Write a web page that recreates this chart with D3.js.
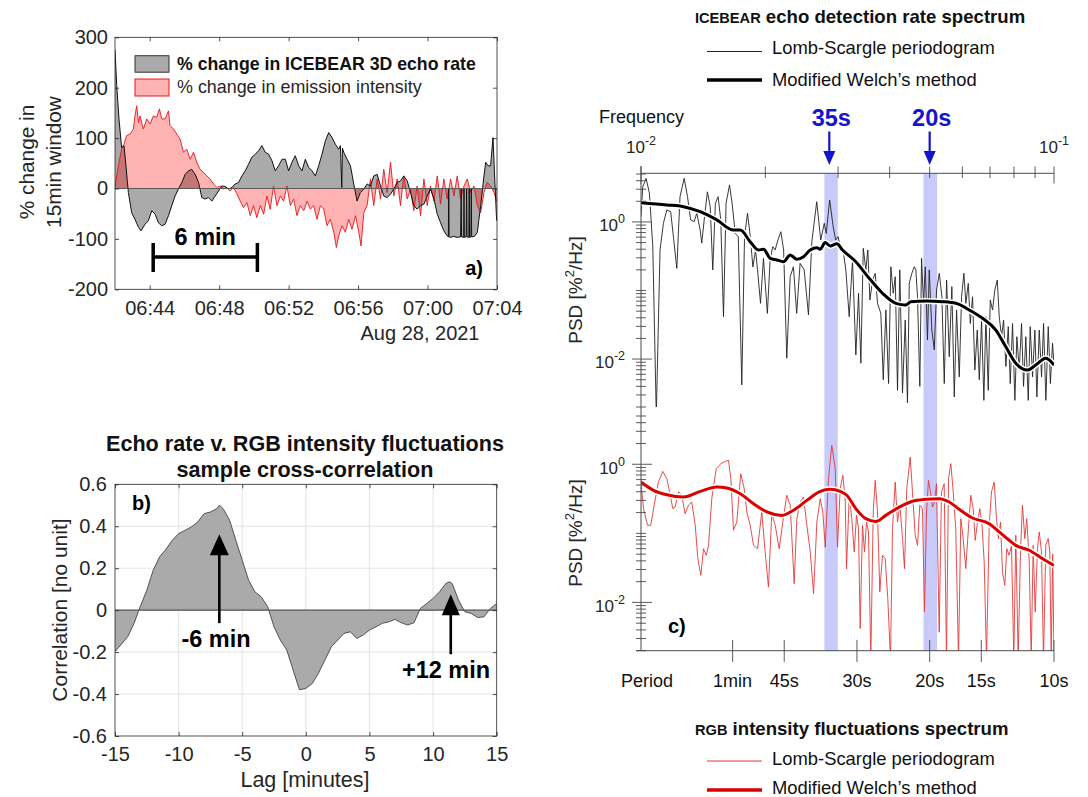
<!DOCTYPE html>
<html><head><meta charset="utf-8">
<script src="https://cdn.jsdelivr.net/npm/d3@7"></script>
<style>body{margin:0;background:#fff}</style>
</head><body>
<svg id="c" width="1088" height="797"></svg>
<script>
// ================= DATA =================
// Panel a: % change in 15-min window, minutes after 06:42 UT, 28 Aug 2021
const echoMin = [0,0.10,0.23,0.38,0.52,0.63,0.77,0.96,1.15,1.35,1.50,1.73,1.92,2.12,2.31,2.50,2.69,2.88,3.08,3.27,3.46,3.65,3.85,4.04,4.23,4.42,4.62,4.81,5.00,5.19,5.38,5.58,5.77,5.96,6.15,6.35,6.54,6.73,6.92,7.12,7.31,7.50,7.69,7.88,8.08,8.27,8.46,8.65,8.85,9.04,9.23,9.42,9.62,9.81,10.00,10.19,10.38,10.58,10.77,10.96,11.15,11.35,11.54,11.73,11.92,12.12,12.31,12.50,12.69,12.88,12.98,13.06,13.10,13.17,13.37,13.56,13.75,13.94,14.13,14.33,14.52,14.71,14.90,15.10,15.29,15.48,15.67,15.87,16.06,16.25,16.44,16.63,16.83,17.02,17.21,17.40,17.60,17.79,17.98,18.17,18.37,18.56,18.75,18.94,19.13,19.20,19.22,19.24,19.33,19.50,19.70,19.90,19.94,19.96,20.08,20.10,20.12,20.23,20.25,20.27,20.38,20.40,20.42,20.50,20.52,20.54,20.70,20.87,20.96,21.06,21.25,21.35,21.48,21.63,21.77,21.87,21.98];
const echoPct = [275,204,138,81,85,45,-8,-48,-61,-77,-84,-71,-64,-44,-51,-68,-74,-71,-54,-34,-15,-1,12,28,35,38,28,12,-18,-21,-18,-25,-15,-5,5,4,-1,2,9,12,25,35,48,62,68,75,85,72,68,55,35,45,58,58,35,52,65,45,35,58,42,35,25,45,68,95,111,101,88,78,85,2,80,72,58,45,9,-25,-8,-1,9,5,25,28,5,-15,-18,-11,-1,12,15,25,15,-8,-34,-41,-34,-31,-15,-1,-21,-51,-68,-84,-94,-96,0,-96,-97,-95,-97,-96,0,-96,-97,0,-97,-96,0,-96,-97,0,-97,-96,0,-96,-95,-87,-61,-34,25,52,45,45,101,19,-64];
const emisMin = [0,0.10,0.23,0.38,0.52,0.67,0.87,1.06,1.15,1.25,1.35,1.44,1.63,1.83,2.02,2.21,2.40,2.56,2.69,2.88,3.08,3.17,3.37,3.56,3.75,3.94,4.13,4.33,4.52,4.71,4.90,5.10,5.29,5.48,5.67,5.87,6.06,6.25,6.44,6.63,6.83,7.02,7.21,7.40,7.60,7.79,7.98,8.17,8.37,8.56,8.75,8.94,9.13,9.33,9.52,9.71,9.90,10.10,10.29,10.48,10.67,10.87,11.06,11.25,11.44,11.63,11.83,12.02,12.21,12.40,12.60,12.75,12.88,13.08,13.27,13.46,13.65,13.85,14.04,14.17,14.33,14.52,14.71,14.90,15.10,15.29,15.48,15.67,15.87,16.06,16.25,16.44,16.63,16.83,17.02,17.21,17.40,17.60,17.79,17.98,18.17,18.37,18.56,18.75,18.94,19.13,19.33,19.52,19.71,19.90,20.10,20.29,20.48,20.67,20.87,21.06,21.25,21.44,21.63,21.83,21.98];
const emisPct = [2,25,52,78,88,105,108,118,144,164,131,144,118,138,128,144,141,158,138,138,154,125,118,108,98,72,78,58,72,52,38,32,25,19,9,2,5,-1,2,-5,2,-11,-25,-38,-28,-54,-34,-58,-34,-51,-15,-41,5,-34,-15,-25,5,-34,-21,-54,-34,-44,-25,-41,-34,-61,-34,-41,-74,-61,-87,-117,-94,-74,-87,-61,-81,-54,-87,-114,-48,-34,19,-34,19,-21,38,-8,52,-15,19,-34,25,-21,-1,-44,5,-54,19,-34,5,-25,25,-31,19,-21,19,-15,25,-21,5,19,-8,5,-34,-48,-8,12,5,-8,-25];
const timeTickMin = [2,6,10,14,18,22];
const pctTicks = [-200,-100,0,100,200,300];

// Panel b: sample cross-correlation vs lag (minutes)
const lagMin = [-15,-14,-13.5,-13,-12.5,-12,-11.5,-11,-10.5,-10,-9.5,-9,-8.5,-8,-7.5,-7,-6.8,-6.5,-6,-5.5,-5,-4.5,-4,-3.5,-3,-2.5,-2,-1.5,-1,-0.5,0,0.5,1,1.5,2,2.5,3,3.5,4,4.5,5,5.5,6,6.5,7,7.5,8,8.5,9,9.5,10,10.5,11,11.3,11.5,12,12.5,13,13.5,14,14.5,15];
const xcorr = [-0.198,-0.127,-0.063,0.02,0.095,0.19,0.254,0.29,0.333,0.365,0.38,0.397,0.42,0.46,0.468,0.484,0.5,0.484,0.43,0.333,0.238,0.143,0.087,0.063,0.016,-0.08,-0.143,-0.19,-0.286,-0.38,-0.373,-0.35,-0.30,-0.238,-0.175,-0.143,-0.111,-0.103,-0.135,-0.119,-0.095,-0.08,-0.063,-0.056,-0.044,-0.06,-0.071,-0.06,0.008,0.032,0.056,0.087,0.127,0.135,0.127,0.048,-0.008,-0.016,-0.035,-0.032,0.008,0.032];
const lagTicks = [-15,-10,-5,0,5,10,15];
const corrTicks = [-0.6,-0.4,-0.2,0,0.2,0.4,0.6];

// Panel c: spectra (frequency in mHz, PSD in %^2/Hz)
const lsEchoF = [10.00,10.10,10.29,10.48,10.68,10.89,11.12,11.33,11.55,11.80,11.98,12.21,12.43,12.72,12.96,13.19,13.45,13.65,13.91,14.03,14.25,14.48,14.71,14.92,15.14,15.37,15.60,15.84,16.07,16.38,16.62,16.91,17.20,17.54,17.81,18.11,18.39,18.66,18.94,19.15,19.47,19.79,20.23,20.54,20.84,21.13,21.45,21.81,22.15,22.54,22.97,23.39,23.82,24.28,24.84,25.44,25.92,26.64,27.24,27.78,28.09,28.63,29.20,29.60,30.01,30.48,30.76,31.33,31.92,32.52,33.13,33.63,34.07,34.53,35.03,35.42,35.83,36.37,36.91,37.39,38.08,38.60,39.17,39.76,40.27,40.81,41.27,41.79,42.33,42.97,43.63,44.18,44.62,45.27,45.88,46.29,46.72,47.33,47.79,48.32,48.79,49.39,49.88,50.61,51.30,51.96,52.76,53.52,54.24,54.95,55.77,56.58,57.35,58.09,58.97,59.73,60.51,61.18,62.00,62.71,63.50,64.32,65.19,65.93,66.78,67.64,68.40,69.31,70.09,71.00,71.91,72.88,73.70,74.65,75.49,76.47,77.49,78.35,79.37,80.40,81.30,82.38,83.45,84.38,85.47,86.62,87.58,88.73,89.88,90.89,92.11,93.30,94.35,95.56,96.84,98.00,99.20,100.0];
const lsEchoP = [1.2,3.27,4.32,2.62,0.436,0.0015,0.39,0.955,1.49,1.41,0.61,0.21,2.34,4.32,2.34,1.07,1.01,1.34,0.76,0.49,1.19,2.75,1.67,0.2,1.87,2.34,1.07,0.0415,1.87,3.46,1.87,0.68,0.61,0.0042,0.61,1.34,0.61,0.22,0.39,0.2,0.065,0.295,0.0464,0.279,0.436,0.39,0.545,0.72,0.39,0.0103,0.159,0.222,0.0464,0.249,0.2,0.044,0.515,1.97,0.545,0.955,0.68,2.09,0.85,0.545,0.61,0.39,0.436,0.2,0.0415,0.279,0.0115,0.0912,0.0087,0.412,0.2,0.39,0.0726,0.142,0.178,0.065,0.0464,0.005,0.052,0.0044,0.222,0.0912,0.159,0.0035,0.2,0.0032,0.037,0.0023,0.127,0.178,0.222,0.2,0.081,0.004,0.295,0.065,0.222,0.019,0.2,0.0265,0.0136,0.102,0.178,0.081,0.0044,0.142,0.0108,0.114,0.0028,0.052,0.0055,0.081,0.178,0.065,0.127,0.033,0.081,0.0069,0.0265,0.005,0.037,0.0025,0.0415,0.0035,0.0726,0.052,0.102,0.142,0.0415,0.0212,0.037,0.0078,0.0297,0.0044,0.033,0.0025,0.0212,0.0069,0.033,0.004,0.0212,0.0025,0.0297,0.0055,0.0265,0.0028,0.0265,0.0055,0.033,0.0025,0.0297,0.0044,0.017,0.008];
const welchEchoF = [10.0,11.55,12.67,13.91,15.26,16.75,17.39,18.38,19.25,19.80,20.55,21.33,22.13,22.98,23.84,24.75,25.69,26.66,27.16,27.93,28.71,29.80,30.75,33.12,35.68,38.43,41.40,43.77,45.01,48.93,53.70,57.83,62.32,67.14,72.31,76.44,80.81,86.26,90.34,95.52,100.0];
const welchEchoP = [1.91,1.77,1.67,1.41,1.07,0.76,0.76,0.515,0.39,0.40,0.295,0.279,0.263,0.33,0.285,0.311,0.39,0.42,0.40,0.50,0.446,0.479,0.39,0.263,0.151,0.0912,0.065,0.0615,0.0687,0.0703,0.0687,0.065,0.052,0.0393,0.0265,0.0151,0.0087,0.0069,0.0082,0.0103,0.0082];
const lsRgbF = [10.00,10.14,10.37,10.56,10.76,11.02,11.29,11.55,11.77,11.94,12.10,12.33,12.55,12.79,13.03,13.27,13.53,13.73,13.96,14.17,14.39,14.57,14.84,15.21,15.61,15.99,16.29,16.50,16.75,17.06,17.44,17.78,18.04,18.38,18.73,19.15,19.61,19.98,20.35,20.73,21.13,21.61,22.05,22.54,22.98,23.49,23.84,24.29,24.75,25.21,25.69,26.17,26.66,27.16,27.56,27.93,28.44,28.97,29.53,29.91,30.36,30.81,31.22,31.45,31.93,32.39,32.83,33.25,33.62,33.94,34.38,34.77,35.16,35.55,36.01,36.50,36.91,37.38,37.86,38.43,39.02,39.59,40.19,40.64,41.26,41.79,42.33,42.98,43.45,44.01,44.85,45.43,46.12,46.72,47.32,48.03,48.57,49.12,49.67,50.23,50.79,51.36,51.94,52.72,53.40,54.21,54.92,55.54,56.25,57.01,57.83,58.72,59.48,60.27,61.15,61.98,62.88,63.74,64.45,65.29,66.12,66.87,67.76,68.64,69.68,70.58,71.65,72.58,73.38,74.21,75.04,76.01,76.86,77.89,78.90,79.92,80.81,81.90,82.96,83.88,84.97,85.91,87.10,88.07,89.05,90.05,91.20,92.09,93.27,94.32,95.52,96.83,97.68,98.45,99.30,100.0];
const lsRgbP = [0.55,0.228,0.131,0.131,0.255,0.553,0.79,0.618,0.356,0.228,0.24,0.40,0.356,0.192,0.255,0.284,0.131,0.043,0.0247,0.06,0.048,0.067,0.318,0.863,1.02,1.10,1.14,0.618,0.111,0.146,0.73,0.444,0.204,0.131,0.067,0.06,0.204,0.054,0.0167,0.192,0.131,0.06,0.146,0.356,0.255,0.0187,0.163,0.284,0.336,0.131,0.054,0.0134,0.146,0.318,0.204,0.063,0.618,1.88,0.863,0.063,0.444,0.693,0.318,0.0308,0.356,0.163,0.054,0.182,0.117,0.0042,0.131,0.054,0.146,0.105,0.0015,0.204,0.586,0.204,0.0142,0.048,0.043,0.0113,0.0015,0.117,0.553,0.146,0.255,0.0838,0.0308,0.444,1.27,0.40,0.0938,0.067,0.255,0.228,0.0073,0.204,0.586,0.40,0.24,0.284,0.524,0.0037,0.40,0.524,0.0015,0.618,1.02,0.40,0.117,0.0015,0.163,0.0838,0.0308,0.105,0.356,0.228,0.0794,0.146,0.228,0.146,0.0385,0.0015,0.131,0.40,0.553,0.163,0.0838,0.146,0.0275,0.0177,0.06,0.048,0.067,0.0015,0.0938,0.0015,0.054,0.255,0.0838,0.163,0.0385,0.0015,0.067,0.0073,0.06,0.105,0.054,0.0015,0.067,0.0838,0.054,0.0015,0.05,0.0015];
const welchRgbF = [10.0,10.72,11.55,12.67,13.91,15.26,16.13,17.39,18.73,20.17,21.93,23.40,25.21,27.16,28.71,30.36,31.50,33.12,35.02,37.03,39.14,42.20,45.43,48.93,52.72,55.76,58.94,63.48,69.68,73.66,77.89,80.81,87.10,93.8,100.0];
const welchRgbP = [0.553,0.42,0.362,0.336,0.406,0.469,0.454,0.375,0.269,0.204,0.182,0.216,0.30,0.406,0.434,0.406,0.356,0.228,0.163,0.149,0.182,0.24,0.291,0.311,0.318,0.284,0.223,0.167,0.138,0.105,0.0794,0.067,0.0569,0.043,0.0344];
const periodTicks = [60,45,30,20,15,10];
const periodLabels = ["1min","45s","30s","20s","15s","10s"];
const bandsMHz = [[27.8,29.95],[48.3,52.1]];
const markPeriods = [35,20];
const markLabels = ["35s","20s"];

// ================= DRAW =================
const FONT = '"Liberation Sans", Arial, Helvetica, sans-serif';
const INK = '#262626';
const svg = d3.select('#c').attr('font-family', FONT);
const defs = svg.append('defs');
function clip(id,x,y,w,h){defs.append('clipPath').attr('id',id).append('rect').attr('x',x).attr('y',y).attr('width',w).attr('height',h);}
function styleAxis(g,size){
  g.attr('font-family',FONT).attr('font-size',size);
  g.select('.domain').remove();
  g.selectAll('text').attr('fill',INK);
  g.selectAll('line').attr('stroke',INK).attr('stroke-width',0.8);
}
const zip = (a,b,fa)=>a.map((v,i)=>({x:fa?fa(v):v,y:b[i]}));
function arrow(g,x,yTip,yTail,hw,hh,color,sw){
  const dir = yTail > yTip ? 1 : -1;           // 1: arrow points up, -1: points down
  const yBase = yTip + dir*hh;
  g.append('line').attr('x1',x).attr('x2',x).attr('y1',yTail).attr('y2',yBase - dir).attr('stroke',color).attr('stroke-width',sw);
  g.append('path').attr('d',`M${x},${yTip}L${x-hw},${yBase}L${x+hw},${yBase}Z`).attr('fill',color);
}

// ---------- Panel a ----------
const base = new Date(2021,7,28,6,42,0);
const tm = m => new Date(base.getTime()+m*60000);
const xA = d3.scaleTime().domain([tm(0),tm(22)]).range([115,497]);
const yA = d3.scaleLinear().domain([-200,300]).range([289.3,37.3]);
clip('clipA',115,37.3,382,252);
const gA = svg.append('g');
const plotA = gA.append('g').attr('clip-path','url(#clipA)');
const echo = zip(echoMin,echoPct,tm), emis = zip(emisMin,emisPct,tm);
const areaA = d3.area().x(d=>xA(d.x)).y0(yA(0)).y1(d=>yA(d.y));
const lineA = d3.line().x(d=>xA(d.x)).y(d=>yA(d.y));
plotA.append('path').attr('d',areaA(echo)).attr('fill','#aaaaaa');
plotA.append('path').attr('d',areaA(emis)).attr('fill','rgba(255,0,0,0.3)');
plotA.append('path').attr('d',lineA(emis)).attr('fill','none').attr('stroke','#e8161b').attr('stroke-width',0.9);
plotA.append('path').attr('d',lineA(echo)).attr('fill','none').attr('stroke','#111').attr('stroke-width',1);
plotA.append('line').attr('x1',115).attr('x2',497).attr('y1',yA(0)).attr('y2',yA(0)).attr('stroke','#5a5a5a').attr('stroke-width',1.2);
styleAxis(gA.append('g').attr('transform',`translate(0,${yA(-200)})`).call(d3.axisBottom(xA).tickValues(timeTickMin.map(tm)).tickFormat(d3.timeFormat('%H:%M')).tickSizeInner(-4).tickSizeOuter(0).tickPadding(12)),20);
styleAxis(gA.append('g').attr('transform',`translate(0,${yA(300)})`).call(d3.axisTop(xA).tickValues(timeTickMin.map(tm)).tickFormat('').tickSizeInner(-4).tickSizeOuter(0)),20);
styleAxis(gA.append('g').attr('transform',`translate(115,0)`).call(d3.axisLeft(yA).tickValues(pctTicks).tickFormat(d=>String(d)).tickSizeInner(-4).tickSizeOuter(0).tickPadding(7)),20);
styleAxis(gA.append('g').attr('transform',`translate(497,0)`).call(d3.axisRight(yA).tickValues(pctTicks).tickFormat('').tickSizeInner(-4).tickSizeOuter(0)),20);
gA.append('rect').attr('x',115).attr('y',37.3).attr('width',382).attr('height',252).attr('fill','none').attr('stroke',INK).attr('stroke-width',0.8);
gA.append('text').attr('x',420).attr('y',340).attr('text-anchor','middle').attr('font-size',20).attr('fill',INK).text('Aug 28, 2021');
const ylabA = gA.append('text').attr('transform','translate(0,162) rotate(-90)').attr('text-anchor','middle').attr('font-size',20.8).attr('fill',INK);
ylabA.append('tspan').attr('x',0).attr('y',34).text('% change in');
ylabA.append('tspan').attr('x',0).attr('y',61).text('15min window');
// legend
gA.append('rect').attr('x',135).attr('y',55.7).attr('width',34).attr('height',16.5).attr('fill','#aaaaaa').attr('stroke','#333').attr('stroke-width',1);
gA.append('rect').attr('x',135).attr('y',79).attr('width',34).attr('height',17).attr('fill','#ffb3b3').attr('stroke','#e8161b').attr('stroke-width',1);
gA.append('text').attr('x',177).attr('y',70).attr('font-size',17.7).attr('font-weight','bold').attr('fill','#111').text('% change in ICEBEAR 3D echo rate');
gA.append('text').attr('x',177).attr('y',93.3).attr('font-size',17.9).attr('fill',INK).text('% change in emission intensity');
// 6 min scale bar
const sb0 = xA(tm(2.2)), sb1 = xA(tm(8.2));
gA.append('line').attr('x1',sb0).attr('x2',sb1).attr('y1',257).attr('y2',257).attr('stroke','#000').attr('stroke-width',3.5);
[sb0,sb1].forEach(x=>gA.append('line').attr('x1',x).attr('x2',x).attr('y1',243).attr('y2',272).attr('stroke','#000').attr('stroke-width',3.5));
gA.append('text').attr('x',(sb0+sb1)/2).attr('y',245).attr('text-anchor','middle').attr('font-size',23.5).attr('font-weight','bold').text('6 min');
gA.append('text').attr('x',483).attr('y',275).attr('text-anchor','end').attr('font-size',20).attr('font-weight','bold').text('a)');

// ---------- Panel b ----------
const xB = d3.scaleLinear().domain([-15,15]).range([115,496.7]);
const yB = d3.scaleLinear().domain([-0.6,0.6]).range([736,484.3]);
clip('clipB',115,484.3,381.7,251.7);
const gB = svg.append('g');
lagTicks.slice(1,-1).forEach(v=>gB.append('line').attr('x1',xB(v)).attr('x2',xB(v)).attr('y1',484.3).attr('y2',736).attr('stroke','#e4e4e4').attr('stroke-width',1));
corrTicks.slice(1,-1).forEach(v=>gB.append('line').attr('x1',115).attr('x2',496.7).attr('y1',yB(v)).attr('y2',yB(v)).attr('stroke','#e4e4e4').attr('stroke-width',1));
const cc = zip(lagMin,xcorr);
const plotB = gB.append('g').attr('clip-path','url(#clipB)');
plotB.append('path').attr('d',d3.area().x(d=>xB(d.x)).y0(yB(0)).y1(d=>yB(d.y))(cc)).attr('fill','#aaaaaa');
plotB.append('path').attr('d',d3.line().x(d=>xB(d.x)).y(d=>yB(d.y))(cc)).attr('fill','none').attr('stroke','#444').attr('stroke-width',0.9);
plotB.append('line').attr('x1',115).attr('x2',496.7).attr('y1',yB(0)).attr('y2',yB(0)).attr('stroke','#555').attr('stroke-width',1.1);
styleAxis(gB.append('g').attr('transform',`translate(0,736)`).call(d3.axisBottom(xB).tickValues(lagTicks).tickFormat(d=>String(d)).tickSizeInner(-4).tickSizeOuter(0).tickPadding(11)),20);
styleAxis(gB.append('g').attr('transform',`translate(0,484.3)`).call(d3.axisTop(xB).tickValues(lagTicks).tickFormat('').tickSizeInner(-4).tickSizeOuter(0)),20);
styleAxis(gB.append('g').attr('transform',`translate(115,0)`).call(d3.axisLeft(yB).tickValues(corrTicks).tickFormat(d=>String(Math.round(d*10)/10)).tickSizeInner(-4).tickSizeOuter(0).tickPadding(8)),20);
styleAxis(gB.append('g').attr('transform',`translate(496.7,0)`).call(d3.axisRight(yB).tickValues(corrTicks).tickFormat('').tickSizeInner(-4).tickSizeOuter(0)),20);
gB.append('rect').attr('x',115).attr('y',484.3).attr('width',381.7).attr('height',251.7).attr('fill','none').attr('stroke',INK).attr('stroke-width',0.8);
gB.append('text').attr('x',305).attr('y',451).attr('text-anchor','middle').attr('font-size',21.6).attr('font-weight','bold').attr('fill','#111').text('Echo rate v. RGB intensity fluctuations');
gB.append('text').attr('x',305).attr('y',476.5).attr('text-anchor','middle').attr('font-size',21.6).attr('font-weight','bold').attr('fill','#111').text('sample cross-correlation');
gB.append('text').attr('x',305).attr('y',787).attr('text-anchor','middle').attr('font-size',21.5).attr('fill',INK).text('Lag [minutes]');
gB.append('text').attr('transform','translate(67,610) rotate(-90)').attr('text-anchor','middle').attr('font-size',21).attr('fill',INK).text('Correlation [no unit]');
gB.append('text').attr('x',132).attr('y',510).attr('font-size',20).attr('font-weight','bold').text('b)');
arrow(gB,xB(-6.8),yB(0.362),yB(-0.062),9.5,21,'#000',2.6);
arrow(gB,xB(11.39),yB(0.076),yB(-0.21),9,21,'#000',2.6);
gB.append('text').attr('x',216).attr('y',646.7).attr('text-anchor','middle').attr('font-size',23.5).attr('font-weight','bold').text('-6 min');
gB.append('text').attr('x',446).attr('y',678).attr('text-anchor','middle').attr('font-size',23.5).attr('font-weight','bold').text('+12 min');

// ---------- Panel c ----------
const xF = d3.scaleLog().domain([0.01,0.1]).range([641,1054]);
const yU = d3.scaleLog().domain([0.002,5]).range([407,174]);
const yL = d3.scaleLog().domain([0.002,5]).range([650.7,416]);
const gC = svg.append('g');
clip('clipU',641,174,413,233);
clip('clipL',641,416,413,234.7);
bandsMHz.forEach(b=>gC.append('rect').attr('x',xF(b[0]/1000)).attr('width',xF(b[1]/1000)-xF(b[0]/1000)).attr('y',173.5).attr('height',650.7-173.5).attr('fill','#c9c9fa'));
const mk = (F,P)=>F.map((f,i)=>({x:f/1000,y:P[i]}));
const pU = gC.append('g').attr('clip-path','url(#clipU)');
const pL = gC.append('g').attr('clip-path','url(#clipL)');
const lnU = d3.line().x(d=>xF(d.x)).y(d=>yU(d.y));
const lnL = d3.line().x(d=>xF(d.x)).y(d=>yL(d.y));
const smU = d3.line().curve(d3.curveMonotoneX).x(d=>xF(d.x)).y(d=>yU(d.y));
const smL = d3.line().curve(d3.curveMonotoneX).x(d=>xF(d.x)).y(d=>yL(d.y));
pU.append('path').attr('d',lnU(mk(lsEchoF,lsEchoP))).attr('fill','none').attr('stroke','#222').attr('stroke-width',0.9);
pU.append('path').attr('d',smU(mk(welchEchoF,welchEchoP))).attr('fill','none').attr('stroke','#fff').attr('stroke-width',6);
pU.append('path').attr('d',smU(mk(welchEchoF,welchEchoP))).attr('fill','none').attr('stroke','#000').attr('stroke-width',3);
pL.append('path').attr('d',lnL(mk(lsRgbF,lsRgbP))).attr('fill','none').attr('stroke','#e23a3a').attr('stroke-width',0.9);
pL.append('path').attr('d',smL(mk(welchRgbF,welchRgbP))).attr('fill','none').attr('stroke','#fff').attr('stroke-width',6);
pL.append('path').attr('d',smL(mk(welchRgbF,welchRgbP))).attr('fill','none').attr('stroke','#dd0000').attr('stroke-width',3);
// axes
const AX = '#4a4a4a';
gC.append('line').attr('x1',641).attr('x2',641).attr('y1',166).attr('y2',650.7).attr('stroke',AX).attr('stroke-width',1);
gC.append('line').attr('x1',641).attr('x2',1054).attr('y1',173.3).attr('y2',173.3).attr('stroke',AX).attr('stroke-width',1);
gC.append('line').attr('x1',636).attr('x2',1054).attr('y1',650.7).attr('y2',650.7).attr('stroke',AX).attr('stroke-width',1);
const logVals=[]; for(let e=-3;e<=0;e++) for(let k=1;k<=9;k++){const v=k*Math.pow(10,e); if(v>=0.00199&&v<=5.0001) logVals.push(v);}
[yU,yL].forEach(ys=>{
  logVals.forEach(v=>{
    const major = Math.abs(v-1)<1e-9 || Math.abs(v-0.01)<1e-12;
    gC.append('line').attr('x1',major?632:636).attr('x2',major?652:646).attr('y1',ys(v)).attr('y2',ys(v)).attr('stroke',AX).attr('stroke-width',0.9);
  });
  [[1,'0'],[0.01,'-2']].forEach(([v,ex])=>{
    const t = gC.append('text').attr('x',625).attr('y',ys(v)+9.4).attr('text-anchor','end').attr('font-size',17).attr('fill',INK);
    t.append('tspan').text('10');
    t.append('tspan').attr('dy',-8).attr('font-size',12.5).text(ex);
  });
});
for(let k=1;k<=10;k++){
  const f=k*0.01, major=(k===1||k===10);
  gC.append('line').attr('x1',xF(f)).attr('x2',xF(f)).attr('y1',166.5).attr('y2',major?183.5:178).attr('stroke',AX).attr('stroke-width',0.9);
}
[[0.01,'-2'],[0.1,'-1']].forEach(([f,ex])=>{
  const t = gC.append('text').attr('x',xF(f)).attr('y',153).attr('text-anchor','middle').attr('font-size',17).attr('fill',INK);
  t.append('tspan').text('10');
  t.append('tspan').attr('dy',-8).attr('font-size',12.5).text(ex);
});
gC.append('text').attr('x',599).attr('y',122.7).attr('font-size',18).attr('fill','#111').text('Frequency');
periodTicks.forEach((p,i)=>{
  const x=xF(1/p);
  gC.append('line').attr('x1',x).attr('x2',x).attr('y1',640).attr('y2',662).attr('stroke',AX).attr('stroke-width',0.9);
  gC.append('text').attr('x',x).attr('y',686.7).attr('text-anchor','middle').attr('font-size',18).attr('fill','#111').text(periodLabels[i]);
});
gC.append('text').attr('x',621).attr('y',686.7).attr('font-size',18).attr('fill','#111').text('Period');
gC.append('text').attr('x',668).attr('y',633).attr('font-size',20).attr('font-weight','bold').text('c)');
[290,533].forEach(cy=>{
  const t = gC.append('text').attr('transform',`translate(582,${cy}) rotate(-90)`).attr('text-anchor','middle').attr('font-size',19).attr('fill',INK);
  t.append('tspan').text('PSD [%');
  t.append('tspan').attr('dy',-8).attr('font-size',13).text('2');
  t.append('tspan').attr('dy',8).text('/Hz]');
});
const BLUE = '#1414cc';
markPeriods.forEach((p,i)=>{
  const x = xF(1/p);
  arrow(gC,x,165,131.5,6,14,BLUE,2.2);
  gC.append('text').attr('x',x+2).attr('y',126).attr('text-anchor','middle').attr('font-size',23.5).attr('font-weight','bold').attr('fill',BLUE).text(markLabels[i]);
});
// legends
function legend(yT,yL1,yT1,yL2,yT2,title,thinColor,thickColor){
  const t = gC.append('text').attr('x',695).attr('y',yT).attr('font-size',18.6).attr('font-weight','bold').attr('fill','#111');
  t.append('tspan').attr('font-size',14.6).text(title[0]);
  t.append('tspan').text(' '+title[1]);
  gC.append('line').attr('x1',707).attr('x2',762).attr('y1',yL1).attr('y2',yL1).attr('stroke',thinColor).attr('stroke-width',1);
  gC.append('text').attr('x',772).attr('y',yT1).attr('font-size',18.4).attr('fill','#111').text('Lomb-Scargle periodogram');
  gC.append('line').attr('x1',707).attr('x2',762).attr('y1',yL2).attr('y2',yL2).attr('stroke',thickColor).attr('stroke-width',3.5);
  gC.append('text').attr('x',772).attr('y',yT2).attr('font-size',18.4).attr('fill','#111').text('Modified Welch\u2019s method');
}
legend(22.7,51.5,54,80,85.5,['ICEBEAR','echo detection rate spectrum'],'#222','#000');
legend(735,761,764.5,790,794,['RGB','intensity fluctuations spectrum'],'#e23a3a','#dd0000');
</script>
</body></html>
